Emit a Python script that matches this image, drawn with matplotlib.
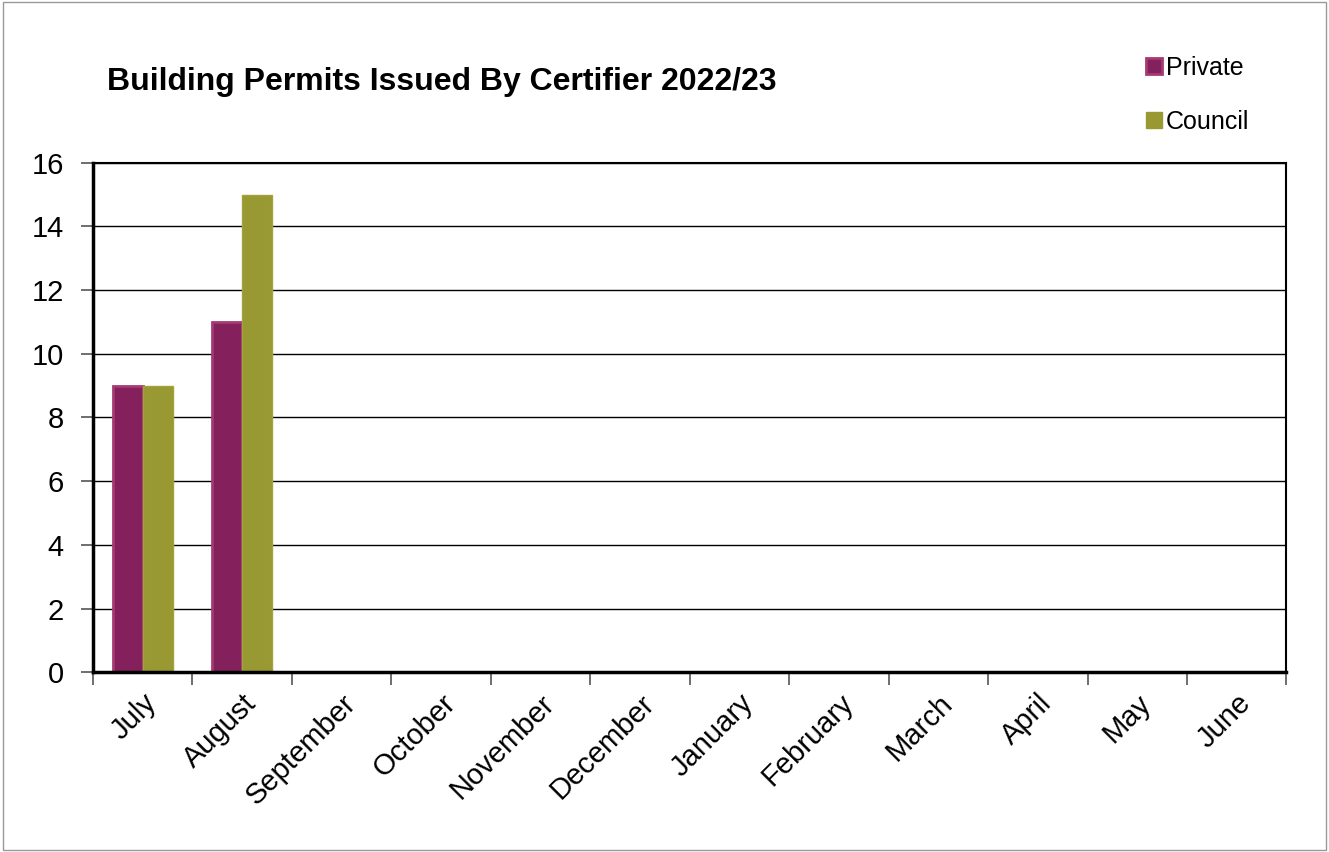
import numpy as np
import matplotlib.pyplot as plt
from matplotlib.patches import Rectangle
from matplotlib.lines import Line2D

# data
months = ['July', 'August', 'September', 'October', 'November', 'December',
          'January', 'February', 'March', 'April', 'May', 'June']
private = [9, 11, 0, 0, 0, 0, 0, 0, 0, 0, 0, 0]
council = [9, 15, 0, 0, 0, 0, 0, 0, 0, 0, 0, 0]

PRIVATE_COL = '#84205C'
PRIVATE_EDGE = '#A53A72'
COUNCIL_COL = '#999933'

plt.rcParams['font.family'] = ['Liberation Sans', 'DejaVu Sans']

fig = plt.figure(figsize=(13.29, 8.52), dpi=100)
ax = fig.add_axes([0.070, 0.211, 0.898, 0.598])

x = np.arange(len(months))
w = 0.3
ax.bar(x - w / 2, private, w, color=PRIVATE_COL, edgecolor=PRIVATE_EDGE, linewidth=2, zorder=2)
ax.bar(x + w / 2, council, w, color=COUNCIL_COL, edgecolor='#A3A33C', linewidth=1, zorder=2)

ax.set_xlim(-0.5, len(months) - 0.5)
ax.set_ylim(0, 16)
ax.set_yticks(range(0, 17, 2))
ax.yaxis.grid(True, color='black', linewidth=1)
ax.set_axisbelow(True)

# ticks on category boundaries, labels centred
ax.set_xticks(np.arange(-0.5, len(months), 1))
ax.set_xticklabels([])
ax.set_xticks(x, minor=True)
ax.set_xticklabels(months, minor=True, rotation=45, ha='right', rotation_mode='anchor',
                   fontsize=21)
ax.tick_params(axis='x', which='minor', length=0, pad=12)
ax.tick_params(axis='x', which='major', length=9, width=1.2, color='#555555')
ax.tick_params(axis='y', labelsize=21, length=9, width=1.2, color='#555555', pad=12)
for s in ax.spines.values():
    s.set_linewidth(1.5)
    s.set_color('black')
ax.spines['bottom'].set_linewidth(2.5)
ax.spines['left'].set_linewidth(2.5)

fig.text(0.0805, 0.904, 'Building Permits Issued By Certifier 2022/23',
         fontsize=23, fontweight='bold', va='center')

handles = [Line2D([], [], marker='s', linestyle='none', markersize=12,
                  markerfacecolor=PRIVATE_COL, markeredgecolor=PRIVATE_EDGE, markeredgewidth=2),
           Line2D([], [], marker='s', linestyle='none', markersize=12,
                  markerfacecolor=COUNCIL_COL, markeredgecolor=COUNCIL_COL)]
fig.legend(handles, ['Private', 'Council'], loc='upper left', bbox_to_anchor=(0.853, 0.946),
           frameon=False, fontsize=18, handlelength=0.8, handletextpad=0.1,
           labelspacing=1.2, borderaxespad=0)

fig.patches.append(Rectangle((0.002, 0.002), 0.996, 0.996, transform=fig.transFigure,
                             fill=False, edgecolor='#999999', linewidth=1))

fig.savefig('out.png', dpi=100)
